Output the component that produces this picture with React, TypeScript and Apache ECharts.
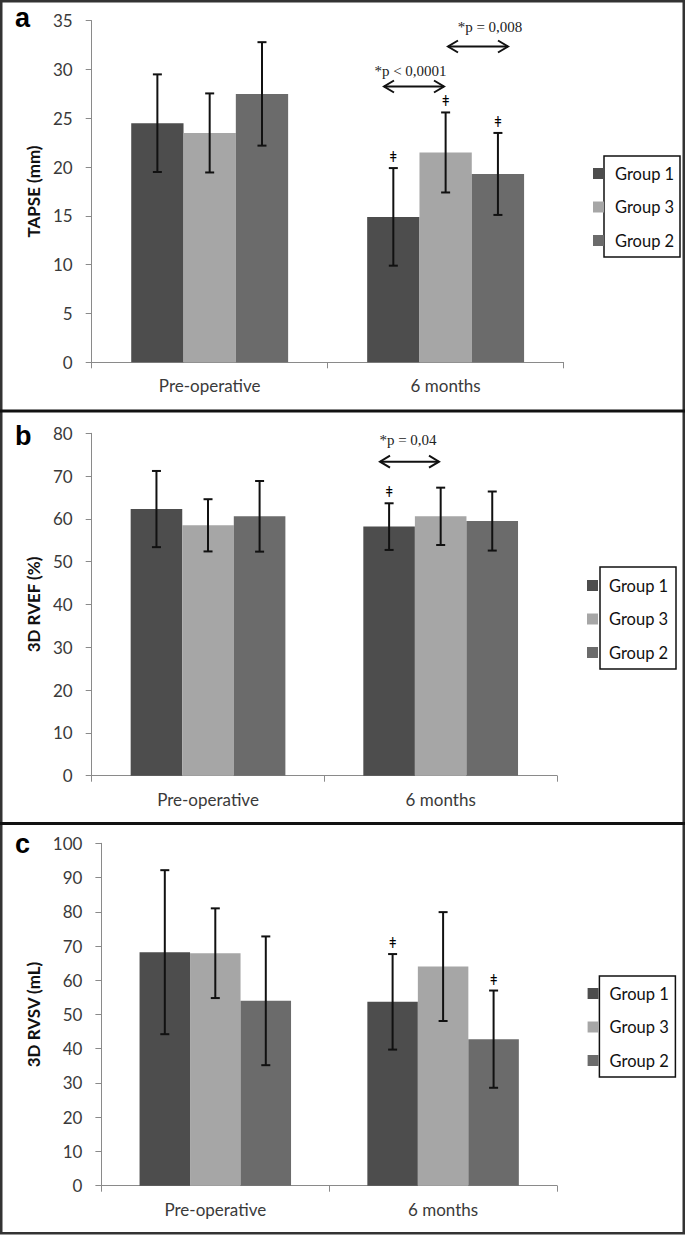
import React, { useEffect, useRef } from 'react';
import * as echarts from 'echarts';

const categories = ['Pre-operative', '6 months'];
const groupNames = ['Group 1', 'Group 3', 'Group 2'];

// Panel a: TAPSE (mm)  [Pre-operative, 6 months]
const tapseG1 = [24.5, 14.9];
const tapseG3 = [23.5, 21.5];
const tapseG2 = [27.5, 19.3];
const tapseSdG1 = [5.0, 5.0];
const tapseSdG3 = [4.05, 4.1];
const tapseSdG2 = [5.3, 4.2];
const tapseDagG1 = [0, 1];
const tapseDagG3 = [0, 1];
const tapseDagG2 = [0, 1];
const tapseTicks = [0, 5, 10, 15, 20, 25, 30, 35];

// Panel b: 3D RVEF (%)
const rvefG1 = [62.3, 58.2];
const rvefG3 = [58.5, 60.6];
const rvefG2 = [60.6, 59.5];
const rvefSdG1 = [8.9, 5.45];
const rvefSdG3 = [6.1, 6.7];
const rvefSdG2 = [8.25, 6.9];
const rvefDagG1 = [0, 1];
const rvefDagG3 = [0, 0];
const rvefDagG2 = [0, 0];
const rvefTicks = [0, 10, 20, 30, 40, 50, 60, 70, 80];

// Panel c: 3D RVSV (mL)
const rvsvG1 = [68.2, 53.7];
const rvsvG3 = [67.9, 64.0];
const rvsvG2 = [54.0, 42.8];
const rvsvSdG1 = [23.95, 13.95];
const rvsvSdG3 = [13.1, 15.9];
const rvsvSdG2 = [18.8, 14.2];
const rvsvDagG1 = [0, 1];
const rvsvDagG3 = [0, 0];
const rvsvDagG2 = [0, 1];
const rvsvTicks = [0, 10, 20, 30, 40, 50, 60, 70, 80, 90, 100];

const pTextA1 = '*p < 0,0001';
const pTextA2 = '*p = 0,008';
const pTextB1 = '*p = 0,04';

const COLORS = ['#4d4d4d', '#a6a6a6', '#6b6b6b'];
const FONT = 'Lato, "Open Sans", sans-serif';
const SERIF = '"Liberation Serif", "DejaVu Serif", serif';
const GAP = 0.335;

const panels = [
  {
    letter: 'a', yName: 'TAPSE (mm)', ticks: tapseTicks,
    means: [tapseG1, tapseG3, tapseG2], sds: [tapseSdG1, tapseSdG3, tapseSdG2],
    dags: [tapseDagG1, tapseDagG3, tapseDagG2],
    grid: { left: 91.7, top: 20.7, width: 471.9, height: 341.6 }, nameGap: 50,
    legend: { left: 593, top: 165 }, box: [604, 156, 76, 101], letterY: 18,
  },
  {
    letter: 'b', yName: '3D RVEF (%)', ticks: rvefTicks,
    means: [rvefG1, rvefG3, rvefG2], sds: [rvefSdG1, rvefSdG3, rvefSdG2],
    dags: [rvefDagG1, rvefDagG3, rvefDagG2],
    grid: { left: 91.7, top: 433.3, width: 465.3, height: 342.4 }, nameGap: 48,
    legend: { left: 587, top: 577 }, box: [600, 567, 76, 102], letterY: 436,
  },
  {
    letter: 'c', yName: '3D RVSV (mL)', ticks: rvsvTicks,
    means: [rvsvG1, rvsvG3, rvsvG2], sds: [rvsvSdG1, rvsvSdG3, rvsvSdG2],
    dags: [rvsvDagG1, rvsvDagG3, rvsvDagG2],
    grid: { left: 101.4, top: 843.3, width: 455.6, height: 342.4 }, nameGap: 54,
    legend: { left: 587.6, top: 985 }, box: [599.4, 976, 76, 101], letterY: 844,
  },
];

function arrow(x1: number, x2: number, y: number) {
  const st = { stroke: '#111', lineWidth: 2, fill: 'none' };
  return {
    type: 'group',
    children: [
      { type: 'line', shape: { x1, y1: y, x2, y2: y }, style: st },
      { type: 'polyline', shape: { points: [[x1 + 10, y - 6], [x1, y], [x1 + 10, y + 6]] }, style: st },
      { type: 'polyline', shape: { points: [[x2 - 10, y - 6], [x2, y], [x2 - 10, y + 6]] }, style: st },
    ],
  };
}

function pText(text: string, x: number, y: number) {
  return {
    type: 'text', x, y,
    style: { text, fontFamily: SERIF, fontSize: 15, fill: '#222', align: 'center', verticalAlign: 'middle' },
  };
}

function buildOption() {
  const grid: any[] = [];
  const xAxis: any[] = [];
  const yAxis: any[] = [];
  const series: any[] = [];
  const legend: any[] = [];
  const graphic: any[] = [];

  panels.forEach((p, pi) => {
    grid.push({ ...p.grid, containLabel: false });
    xAxis.push({
      type: 'category', gridIndex: pi, data: categories,
      axisLine: { lineStyle: { color: '#8a8a8a', width: 1 } },
      axisTick: { show: true, length: 6, lineStyle: { color: '#8a8a8a' } },
      axisLabel: { margin: 15, color: '#3a3a3a', fontFamily: FONT, fontSize: 17 },
    });
    const max = p.ticks[p.ticks.length - 1];
    const interval = p.ticks[1] - p.ticks[0];
    yAxis.push({
      type: 'value', gridIndex: pi, min: p.ticks[0], max, interval,
      name: p.yName, nameLocation: 'middle', nameGap: p.nameGap,
      nameTextStyle: { fontFamily: FONT, fontWeight: 'bold', fontSize: 17, color: '#111' },
      axisLine: { show: true, lineStyle: { color: '#8a8a8a', width: 1 } },
      axisTick: { show: true, length: 6, lineStyle: { color: '#8a8a8a' } },
      axisLabel: { margin: 19, color: '#3a3a3a', fontFamily: FONT, fontSize: 17 },
      splitLine: { show: false },
    });
    groupNames.forEach((g, gi) => {
      series.push({
        type: 'bar', name: g, xAxisIndex: pi, yAxisIndex: pi,
        data: p.means[gi], barGap: '0%', barCategoryGap: `${GAP * 100}%`,
        itemStyle: { color: COLORS[gi] }, z: 2,
      });
    });
    groupNames.forEach((g, gi) => {
      const data = p.means[gi].map((m, ci) => [ci, m - p.sds[gi][ci], m + p.sds[gi][ci], p.dags[gi][ci]]);
      series.push({
        type: 'custom', name: g + ' SD', xAxisIndex: pi, yAxisIndex: pi, z: 5,
        data,
        renderItem: (params: any, api: any) => {
          const ci = api.value(0);
          const lo = api.coord([ci, api.value(1)]);
          const hi = api.coord([ci, api.value(2)]);
          const band = api.size([1, 0])[0];
          const bw = (band * (1 - GAP)) / 3;
          const x = lo[0] + (gi - 1) * bw;
          const st = { stroke: '#111', lineWidth: 2 };
          const children: any[] = [
            { type: 'line', shape: { x1: x, y1: lo[1], x2: x, y2: hi[1] }, style: st },
            { type: 'line', shape: { x1: x - 4.5, y1: lo[1], x2: x + 4.5, y2: lo[1] }, style: st },
            { type: 'line', shape: { x1: x - 4.5, y1: hi[1], x2: x + 4.5, y2: hi[1] }, style: st },
          ];
          if (api.value(3) === 1) {
            children.push({
              type: 'text', x, y: hi[1] - 11,
              style: { text: 'ǂ', fontFamily: '"DejaVu Serif", serif', fontSize: 14, fill: '#000', align: 'center', verticalAlign: 'middle' },
            });
          }
          return { type: 'group', children };
        },
      });
    });
    legend.push({
      orient: 'vertical', left: p.legend.left, top: p.legend.top, padding: 0,
      itemWidth: 11, itemHeight: 11, itemGap: 16.5, icon: 'rect',
      data: groupNames,
      textStyle: { fontFamily: FONT, fontSize: 16.5, color: '#111', lineHeight: 16, padding: [0, 0, 0, 6] },
      selectedMode: false,
    });
    graphic.push({
      type: 'rect', shape: { x: p.box[0], y: p.box[1], width: p.box[2], height: p.box[3] },
      style: { fill: 'none', stroke: '#111', lineWidth: 1.5 }, z: 1,
    });
    graphic.push({
      type: 'text', x: 15, y: p.letterY,
      style: { text: p.letter, fontFamily: '"Liberation Sans", Arial, sans-serif', fontWeight: 'bold', fontSize: 27, fill: '#000', verticalAlign: 'middle' },
    });
  });

  // significance annotations
  graphic.push(pText(pTextA1, 410.5, 71));
  graphic.push(arrow(384, 444, 86.5));
  graphic.push(pText(pTextA2, 490, 27));
  graphic.push(arrow(448, 508, 46.5));
  graphic.push(pText(pTextB1, 408, 440));
  graphic.push(arrow(380, 439, 461.7));

  // frames
  graphic.push({ type: 'rect', shape: { x: 1.25, y: 1.25, width: 682.5, height: 1232 }, style: { fill: 'none', stroke: '#333', lineWidth: 2.5 } });
  graphic.push({ type: 'line', shape: { x1: 0, y1: 411, x2: 685, y2: 411 }, style: { stroke: '#111', lineWidth: 3 } });
  graphic.push({ type: 'line', shape: { x1: 0, y1: 823.5, x2: 685, y2: 823.5 }, style: { stroke: '#111', lineWidth: 3 } });

  return { animation: false, backgroundColor: '#fff', grid, xAxis, yAxis, series, legend, graphic };
}

export default function App() {
  const ref = useRef<HTMLDivElement>(null);
  useEffect(() => {
    if (!ref.current) return;
    const chart = echarts.init(ref.current, null, { renderer: 'svg' });
    chart.setOption(buildOption() as any);
    return () => chart.dispose();
  }, []);
  return (
    <div
      ref={ref}
      style={{ position: 'absolute', left: 0, top: 0, width: 685, height: 1235, background: '#fff' }}
    />
  );
}
